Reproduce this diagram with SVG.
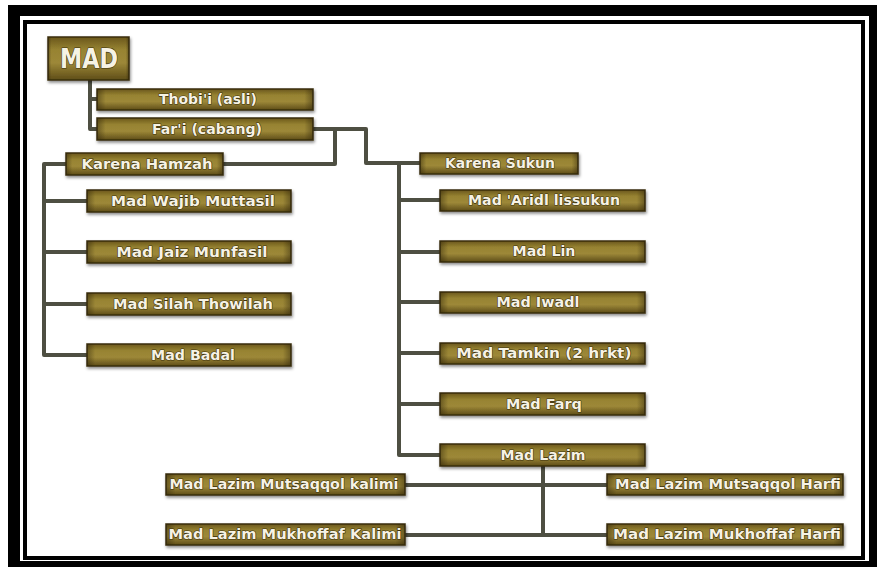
<svg xmlns="http://www.w3.org/2000/svg" width="877" height="567" viewBox="0 0 877 567">
<defs>
<linearGradient id="gv" x1="0" y1="0" x2="0" y2="1">
<stop offset="0" stop-color="#6a571c"/>
<stop offset="0.3" stop-color="#978332"/>
<stop offset="0.6" stop-color="#9d8838"/>
<stop offset="1" stop-color="#5e4d18"/>
</linearGradient>
<linearGradient id="gh" x1="0" y1="0" x2="1" y2="0">
<stop offset="0" stop-color="#2a2008" stop-opacity="0.45"/>
<stop offset="0.04" stop-color="#2a2008" stop-opacity="0"/>
<stop offset="0.96" stop-color="#2a2008" stop-opacity="0"/>
<stop offset="1" stop-color="#2a2008" stop-opacity="0.45"/>
</linearGradient>
<filter id="sh" x="-10%" y="-30%" width="120%" height="170%">
<feDropShadow dx="1" dy="2" stdDeviation="1.5" flood-color="#000" flood-opacity="0.45"/>
</filter>
</defs>
<style>
.b{fill:url(#gv);stroke:#3a2f0c;stroke-width:1.5;filter:url(#sh)}
.o{fill:url(#gh)}
.t{font-family:"Comic Sans MS","DejaVu Sans",sans-serif;font-size:14px;font-weight:bold;fill:#f6f2e4;text-anchor:middle;stroke:#3b300c;stroke-width:1.2px;paint-order:stroke;stroke-linejoin:round}
.c{fill:none;stroke:#4e4f42;stroke-width:4;stroke-linejoin:round;stroke-linecap:butt}
</style>
<rect x="0" y="0" width="877" height="567" fill="#ffffff"/>
<rect x="8" y="5" width="869" height="562" fill="#000"/>
<rect x="20" y="16" width="849" height="545" fill="#ffffff"/>
<rect x="25" y="22" width="838" height="536" fill="none" stroke="#000" stroke-width="4"/>

<g id="connectors">
<path class="c" d="M90,80 V129 H97 M90,99 H97"/>
<path class="c" d="M313,129 H366 V163 H420 M335,129 V164 H223"/>
<path class="c" d="M66,164 H44 V355 H87 M44,201 H87 M44,252 H87 M44,304 H87"/>
<path class="c" d="M420,163 H399 V455 H440 M399,200 H440 M399,252 H440 M399,302 H440 M399,353 H440 M399,404 H440"/>
<path class="c" d="M543,466 V536 M405,485 H607 M405,535 H607"/>
</g>

<g id="n-mad"><rect class="b" x="48" y="37" width="81" height="43"/><rect class="o" x="48" y="37" width="81" height="43"/><text class="t" x="89" y="68" style="font-size:26px" textLength="58" lengthAdjust="spacingAndGlyphs">MAD</text></g>
<g id="n-thobii"><rect class="b" x="97" y="89" width="216" height="21"/><rect class="o" x="97" y="89" width="216" height="21"/><text class="t" x="208" y="104" textLength="98" lengthAdjust="spacingAndGlyphs">Thobi'i (asli)</text></g>
<g id="n-fari"><rect class="b" x="97" y="118" width="216" height="22"/><rect class="o" x="97" y="118" width="216" height="22"/><text class="t" x="207" y="134" textLength="110" lengthAdjust="spacingAndGlyphs">Far'i (cabang)</text></g>
<g id="n-hamzah"><rect class="b" x="66" y="153" width="157" height="22"/><rect class="o" x="66" y="153" width="157" height="22"/><text class="t" x="147" y="169" textLength="131" lengthAdjust="spacingAndGlyphs">Karena Hamzah</text></g>
<g id="n-wajib"><rect class="b" x="87" y="190" width="204" height="22"/><rect class="o" x="87" y="190" width="204" height="22"/><text class="t" x="193" y="206" textLength="164" lengthAdjust="spacingAndGlyphs">Mad Wajib Muttasil</text></g>
<g id="n-jaiz"><rect class="b" x="87" y="241" width="204" height="22"/><rect class="o" x="87" y="241" width="204" height="22"/><text class="t" x="192" y="257" textLength="151" lengthAdjust="spacingAndGlyphs">Mad Jaiz Munfasil</text></g>
<g id="n-silah"><rect class="b" x="87" y="293" width="204" height="22"/><rect class="o" x="87" y="293" width="204" height="22"/><text class="t" x="193" y="309" textLength="160" lengthAdjust="spacingAndGlyphs">Mad Silah Thowilah</text></g>
<g id="n-badal"><rect class="b" x="87" y="344" width="204" height="22"/><rect class="o" x="87" y="344" width="204" height="22"/><text class="t" x="193" y="360" textLength="84" lengthAdjust="spacingAndGlyphs">Mad Badal</text></g>
<g id="n-sukun"><rect class="b" x="420" y="153" width="158" height="21"/><rect class="o" x="420" y="153" width="158" height="21"/><text class="t" x="500" y="168" textLength="110" lengthAdjust="spacingAndGlyphs">Karena Sukun</text></g>
<g id="n-aridl"><rect class="b" x="440" y="190" width="205" height="21"/><rect class="o" x="440" y="190" width="205" height="21"/><text class="t" x="544" y="205" textLength="152" lengthAdjust="spacingAndGlyphs">Mad 'Aridl lissukun</text></g>
<g id="n-lin"><rect class="b" x="440" y="241" width="205" height="21"/><rect class="o" x="440" y="241" width="205" height="21"/><text class="t" x="544" y="256" textLength="63" lengthAdjust="spacingAndGlyphs">Mad Lin</text></g>
<g id="n-iwadl"><rect class="b" x="440" y="292" width="205" height="21"/><rect class="o" x="440" y="292" width="205" height="21"/><text class="t" x="538" y="307" textLength="83" lengthAdjust="spacingAndGlyphs">Mad Iwadl</text></g>
<g id="n-tamkin"><rect class="b" x="440" y="343" width="205" height="21"/><rect class="o" x="440" y="343" width="205" height="21"/><text class="t" x="544" y="358" textLength="175" lengthAdjust="spacingAndGlyphs">Mad Tamkin (2 hrkt)</text></g>
<g id="n-farq"><rect class="b" x="440" y="393" width="205" height="22"/><rect class="o" x="440" y="393" width="205" height="22"/><text class="t" x="544" y="409" textLength="76" lengthAdjust="spacingAndGlyphs">Mad Farq</text></g>
<g id="n-lazim"><rect class="b" x="440" y="444" width="205" height="22"/><rect class="o" x="440" y="444" width="205" height="22"/><text class="t" x="543" y="460" textLength="85" lengthAdjust="spacingAndGlyphs">Mad Lazim</text></g>
<g id="n-mutsaqqol-kalimi"><rect class="b" x="166" y="474" width="239" height="21"/><rect class="o" x="166" y="474" width="239" height="21"/><text class="t" x="284" y="489" textLength="229" lengthAdjust="spacingAndGlyphs">Mad Lazim Mutsaqqol kalimi</text></g>
<g id="n-mutsaqqol-harfi"><rect class="b" x="607" y="474" width="236" height="21"/><rect class="o" x="607" y="474" width="236" height="21"/><text class="t" x="728" y="489" textLength="226" lengthAdjust="spacingAndGlyphs">Mad Lazim Mutsaqqol Harfi</text></g>
<g id="n-mukhoffaf-kalimi"><rect class="b" x="166" y="524" width="239" height="21"/><rect class="o" x="166" y="524" width="239" height="21"/><text class="t" x="285" y="539" textLength="233" lengthAdjust="spacingAndGlyphs">Mad Lazim Mukhoffaf Kalimi</text></g>
<g id="n-mukhoffaf-harfi"><rect class="b" x="607" y="524" width="236" height="21"/><rect class="o" x="607" y="524" width="236" height="21"/><text class="t" x="727" y="539" textLength="228" lengthAdjust="spacingAndGlyphs">Mad Lazim Mukhoffaf Harfi</text></g>
</svg>
